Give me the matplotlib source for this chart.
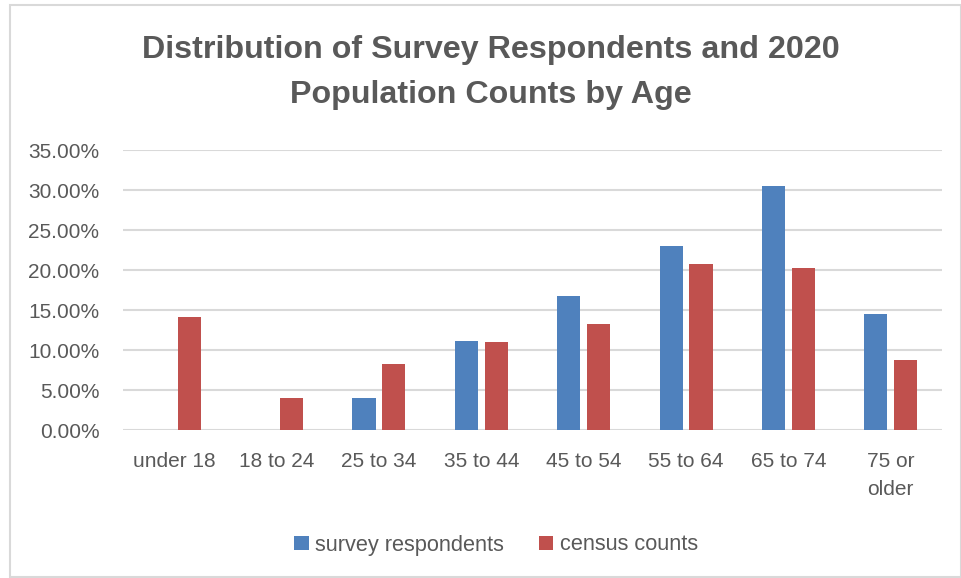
import matplotlib.pyplot as plt
import numpy as np
from matplotlib.patches import Rectangle
from matplotlib.ticker import PercentFormatter

# data (percent)
age_groups = ["under 18", "18 to 24", "25 to 34", "35 to 44", "45 to 54",
              "55 to 64", "65 to 74", "75 or\nolder"]
survey = [0.0, 0.0, 4.0, 11.1, 16.7, 23.0, 30.5, 14.5]
census = [14.1, 4.0, 8.2, 11.0, 13.3, 20.7, 20.25, 8.7]
y_ticks = [0, 5, 10, 15, 20, 25, 30, 35]

blue = "#4F81BD"
red = "#C0504D"
grey = "#595959"

plt.rcParams['font.family'] = ['Liberation Sans', 'DejaVu Sans']

fig = plt.figure(figsize=(9.61, 5.78), dpi=100)
ax = fig.add_axes([123/961, 1 - 430/578, (942 - 123)/961, 280/578])

x = np.arange(len(age_groups))
w = 0.225
off = 0.146
ax.bar(x - off, survey, w, color=blue, label="survey respondents", zorder=3)
ax.bar(x + off, census, w, color=red, label="census counts", zorder=3)

ax.set_xlim(-0.5, len(age_groups) - 0.5)
ax.set_ylim(0, 35)
ax.set_yticks(y_ticks)
ax.yaxis.set_major_formatter(PercentFormatter(decimals=2))
ax.set_xticks(x)
ax.set_xticklabels(age_groups, va="top", linespacing=1.6)
ax.tick_params(axis="both", length=0, labelsize=15, colors=grey)
ax.tick_params(axis="y", pad=17)
ax.tick_params(axis="x", pad=16)
ax.grid(axis="y", color="#D9D9D9", linewidth=1.5, zorder=0)
for s in ax.spines.values():
    s.set_visible(False)

cx = 491 / 961
fig.text(cx, 1 - 50/578, "Distribution of Survey Respondents and 2020",
         ha="center", va="center", fontsize=23.2, fontweight="bold", color=grey)
fig.text(cx, 1 - 95/578, "Population Counts by Age",
         ha="center", va="center", fontsize=23.2, fontweight="bold", color=grey)

fig.legend(loc="center", bbox_to_anchor=(496/961, 1 - 545/578), ncol=2, frameon=False,
           fontsize=15.7, labelcolor=grey, handlelength=0.65, handleheight=0.65,
           handletextpad=0.3, columnspacing=1.6)

fig.patches.append(Rectangle((10/961, 0.002), 0.99, 1 - 5/578 - 0.002,
                             transform=fig.transFigure, fill=False,
                             edgecolor="#D9D9D9", linewidth=1.5))

fig.savefig("out.png", dpi=100)
